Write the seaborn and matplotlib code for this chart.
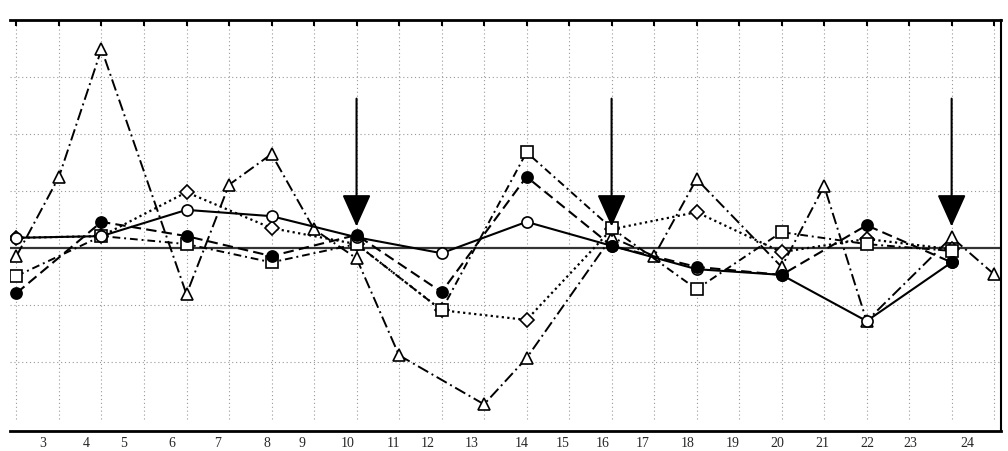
import matplotlib.pyplot as plt
import seaborn as sns
import numpy as np

sns.set_style('white')
plt.rcParams['font.family'] = ['Liberation Serif', 'DejaVu Serif']

# measurement points sit on the grid columns (0..23)
pos_main = [0, 2, 4, 6, 8, 10, 12, 14, 16, 18, 20, 22]
open_circle = [0.18, 0.21, 0.67, 0.56, 0.19, -0.09, 0.46, 0.04, -0.37, -0.47, -1.28, -0.25]
filled_circle = [-0.79, 0.46, 0.21, -0.14, 0.23, -0.77, 1.25, 0.04, -0.33, -0.47, 0.40, -0.25]
open_square = [-0.49, 0.21, 0.07, -0.25, 0.07, -1.09, 1.68, 0.35, -0.72, 0.28, 0.07, -0.05]
open_diamond = [0.18, 0.21, 0.98, 0.35, 0.07, -1.09, -1.26, 0.33, 0.63, -0.07, 0.16, -0.02]

pos_tri = [0, 1, 2, 4, 5, 6, 7, 8, 9, 11, 12, 14, 15, 16, 18, 19, 20, 22, 23]
open_triangle = [-0.14, 1.25, 3.49, -0.81, 1.11, 1.65, 0.33, -0.18, -1.88, -2.74, -1.93,
                 0.19, -0.14, 1.21, -0.33, 1.09, -1.28, 0.19, -0.46]

# x axis labels and where they sit
tick_labels = ['3', '4', '5', '6', '7', '8', '9', '10', '11', '12', '13', '14',
               '15', '16', '17', '18', '19', '20', '21', '22', '23', '24']
tick_pos = [0.62, 1.64, 2.51, 3.66, 4.74, 5.89, 6.72, 7.78, 8.86, 9.68, 10.72, 11.89,
            12.84, 13.78, 14.74, 15.80, 16.84, 17.89, 18.95, 20.01, 21.02, 22.36]

# arrows marking events
arrow_pos = [8, 14, 22]

fig, ax = plt.subplots(figsize=(10.08, 4.52), dpi=100)
fig.subplots_adjust(left=0.0099, right=0.993, bottom=0.044, top=0.9535)

# background dotted grid
for gx in range(24):
    ax.axvline(gx, ymin=0.03, ymax=0.99, color='#999999', lw=0.8, ls=(0, (1, 2.5)), zorder=0)
for gy in [-2, -1, 1, 2, 3]:
    ax.axhline(gy, color='#999999', lw=0.8, ls=(0, (1, 2.5)), zorder=0)
ax.axhline(0, color='#333333', lw=1.6, zorder=1)

mk = dict(markersize=8, markeredgecolor='black', markeredgewidth=1.2)

sns.lineplot(x=pos_tri, y=open_triangle, ax=ax, color='black', lw=1.4,
             linestyle=(0, (6, 2, 1, 2)), marker='^', markerfacecolor='white', **mk)
sns.lineplot(x=pos_main, y=open_diamond, ax=ax, color='black', lw=1.6,
             linestyle=(0, (1, 1.5)), marker='D', markerfacecolor='white',
             markersize=7, markeredgecolor='black', markeredgewidth=1.2)
sns.lineplot(x=pos_main, y=open_square, ax=ax, color='black', lw=1.4,
             linestyle=(0, (4, 2, 1, 2)), marker='s', markerfacecolor='white', **mk)
sns.lineplot(x=pos_main, y=open_circle, ax=ax, color='black', lw=1.5,
             linestyle='-', marker='o', markerfacecolor='white', **mk)
sns.lineplot(x=pos_main, y=filled_circle, ax=ax, color='black', lw=1.5,
             linestyle=(0, (5, 2.5)), marker='o', markerfacecolor='black', **mk)

for a in arrow_pos:
    ax.annotate('', xy=(a, 0.33), xytext=(a, 2.67),
                arrowprops=dict(arrowstyle='-|>,head_length=1.0,head_width=0.45',
                                color='black', lw=1.5, mutation_scale=20),
                zorder=6)

ax.set_xlim(-0.153, 23.16)
ax.set_ylim(-3.21, 4.0)
ax.set_yticks([])
ax.set_xticks(tick_pos)
ax.set_xticklabels(tick_labels, fontsize=10)
ax.set_xticks(range(24), minor=True)
ax.tick_params(axis='x', which='major', length=0, pad=3.5)
ax.tick_params(axis='x', which='minor', bottom=False, top=True, direction='in',
               length=4, width=1.5, color='black')

ax.spines['left'].set_visible(False)
ax.spines['top'].set_linewidth(2)
ax.spines['bottom'].set_linewidth(2)
ax.spines['right'].set_linewidth(1.5)
for s in ax.spines.values():
    s.set_color('black')

ax.set_xlabel('')
ax.set_ylabel('')
plt.savefig('out.png', dpi=100)
